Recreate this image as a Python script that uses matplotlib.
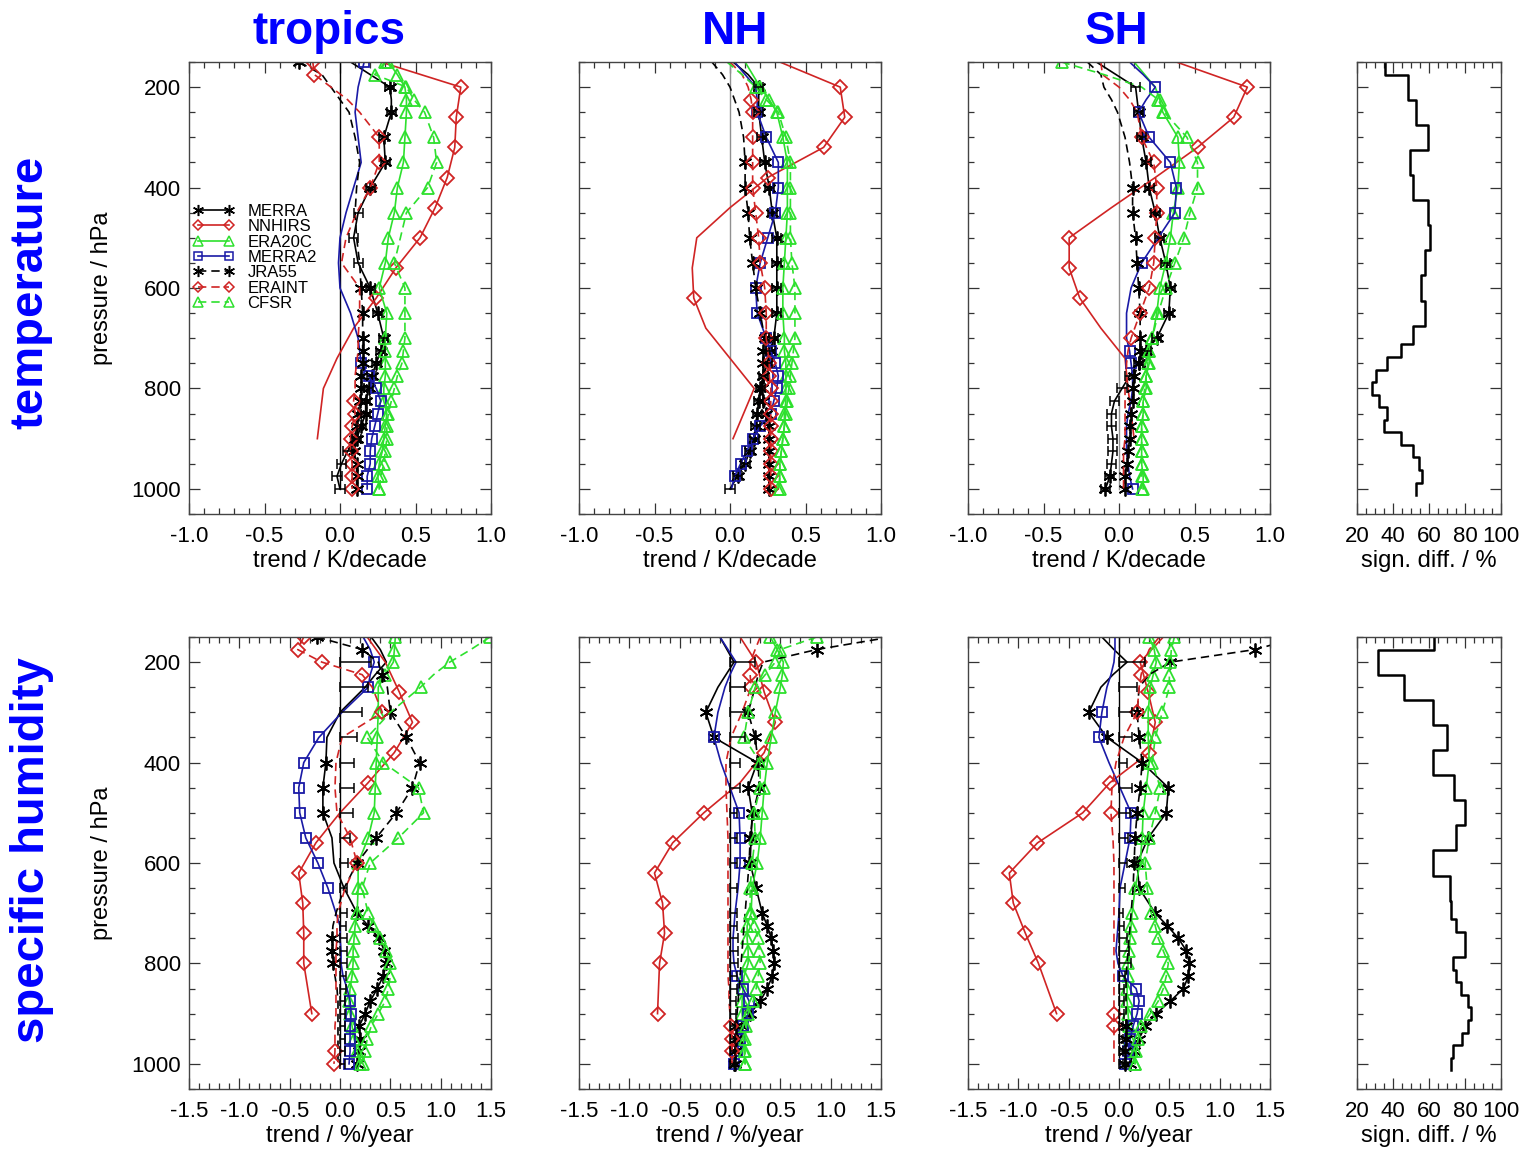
import numpy as np
import matplotlib
matplotlib.use('Agg')
import matplotlib.pyplot as plt
from matplotlib.lines import Line2D
from matplotlib.ticker import MultipleLocator

plt.rcParams['font.family'] = ['Liberation Sans', 'DejaVu Sans']
nan = np.nan

# ---------------- data ----------------
LEV = [150, 175, 200, 225, 250, 300, 350, 400, 450, 500, 550, 600, 650, 700,
       725, 750, 775, 800, 825, 850, 875, 900, 925, 950, 975, 1000]
N_LEV = [150, 200, 260, 320, 380, 440, 500, 560, 620, 680, 740, 800, 900]
S_LEV = [150, 200, 250, 300, 350, 400, 450, 500, 550, 600, 650, 700,
         725, 750, 775, 800, 825, 850, 875, 900, 925, 950, 975, 1000]

SERIES = ['MERRA', 'NNHIRS', 'ERA20C', 'MERRA2', 'JRA55', 'ERAINT', 'CFSR']
REGIONS = ['tropics', 'NH', 'SH']
ROWS = ['temperature', 'specific humidity']
T_XTICKS = [-1.0, -0.5, 0.0, 0.5, 1.0]
T_XTICKLABELS = ['-1.0', '-0.5', '0.0', '0.5', '1.0']
H_XTICKS = [-1.5, -1.0, -0.5, 0.0, 0.5, 1.0, 1.5]
H_XTICKLABELS = ['-1.5', '-1.0', '-0.5', '0.0', '0.5', '1.0', '1.5']
P_TICKS = [200, 400, 600, 800, 1000]
S_TICKS = [20, 40, 60, 80, 100]

# --- temperature, tropics
T_TR_MERRA = [0.07, 0.20, 0.33, 0.34, 0.34, 0.29, 0.30, 0.20, 0.12, 0.09, 0.12, 0.20, 0.25, 0.29, 0.27, 0.24, 0.21, 0.19, 0.17, 0.17, 0.14, 0.11, 0.05, 0.01, -0.02, 0.0]
T_TR_MERRA_MK = [0,0,1,0,1,1,1,1,0,0,0,1,1,1,1,1,1,1,1,1,1,1,0,0,0,0]
T_TR_NNHIRS = [0.27, 0.80, 0.77, 0.76, 0.71, 0.63, 0.53, 0.37, 0.24, 0.09, -0.02, -0.11, -0.15]
T_TR_NNHIRS_MK = [0,1,1,1,1,1,1,1,1,0,0,0,0]
T_TR_ERA20C = [0.32, 0.38, 0.43, 0.44, 0.44, 0.43, 0.42, 0.38, 0.36, 0.32, 0.30, 0.26, 0.31, 0.30, 0.30, 0.30, 0.30, 0.29, 0.29, 0.31, 0.30, 0.29, 0.28, 0.26, 0.25, 0.26]
T_TR_ERA20C_MK = [1]*26
T_TR_MERRA2 = [0.16, 0.14, 0.12, 0.11, 0.10, 0.12, 0.14, 0.09, 0.04, 0.0, -0.01, 0.0, 0.07, 0.12, 0.13, 0.14, 0.19, 0.24, 0.27, 0.25, 0.23, 0.21, 0.20, 0.20, 0.18, 0.18]
T_TR_MERRA2_MK = [1,0,0,0,0,0,0,0,0,0,0,0,0,0,0,1,1,1,1,1,1,1,1,1,1,1]
T_TR_JRA55 = [-0.27, -0.12, -0.06, 0.0, 0.06, 0.10, 0.13, 0.11, 0.10, 0.11, 0.13, 0.14, 0.15, 0.15, 0.15, 0.15, 0.14, 0.14, 0.13, 0.12, 0.11, 0.10, 0.09, 0.11, 0.11, 0.11]
T_TR_JRA55_MK = [1,0,0,0,0,0,0,0,0,0,0,1,1,1,1,1,1,1,1,1,1,1,1,1,1,1]
T_TR_ERAINT = [-0.18, -0.17, -0.06, 0.05, 0.13, 0.26, 0.26, 0.20, 0.11, 0.04, 0.01, 0.13, 0.13, 0.12, 0.12, 0.11, 0.10, 0.10, 0.09, 0.10, 0.08, 0.07, 0.07, 0.08, 0.08, 0.08]
T_TR_ERAINT_MK = [1,1,0,0,0,1,1,1,0,0,0,0,0,0,0,0,0,0,1,1,1,1,1,1,1,1]
T_TR_CFSR = [0.30, 0.23, 0.44, 0.49, 0.56, 0.62, 0.64, 0.58, 0.44, 0.40, 0.36, 0.43, 0.43, 0.43, 0.42, 0.41, 0.38, 0.36, 0.34, 0.32, 0.31, 0.31, 0.30, 0.29, 0.27, 0.26]
T_TR_CFSR_MK = [1,1,1,1,1,1,1,1,1,0,1,1,1,1,1,1,1,1,1,1,1,1,1,1,1,1]

# --- temperature, NH
T_NH_MERRA = [0.02, 0.12, 0.19, 0.19, 0.19, 0.21, 0.23, 0.26, 0.28, 0.31, 0.31, 0.31, 0.31, 0.29, 0.27, 0.25, 0.22, 0.20, 0.19, 0.18, 0.17, 0.16, 0.13, 0.10, 0.05, 0.0]
T_NH_MERRA_MK = [0,0,1,0,1,1,1,1,1,1,1,1,1,1,1,1,1,1,1,1,1,1,1,1,1,0]
T_NH_NNHIRS = [0.33, 0.73, 0.76, 0.62, 0.25, 0.0, -0.22, -0.25, -0.24, -0.16, 0.0, 0.16, 0.02]
T_NH_NNHIRS_MK = [0,1,1,1,1,0,0,0,1,0,0,0,0]
T_NH_ERA20C = [0.10, 0.15, 0.20, 0.26, 0.31, 0.35, 0.38, 0.38, 0.38, 0.37, 0.36, 0.35, 0.35, 0.36, 0.36, 0.37, 0.37, 0.37, 0.37, 0.36, 0.36, 0.35, 0.34, 0.33, 0.33, 0.32]
T_NH_ERA20C_MK = [0,0,1,1,1,1,1,1,1,1,1,1,1,1,1,1,1,1,1,1,1,1,1,1,1,1]
T_NH_MERRA2 = [0.03, 0.10, 0.17, 0.18, 0.18, 0.24, 0.32, 0.32, 0.30, 0.25, 0.20, 0.17, 0.18, 0.24, 0.27, 0.30, 0.32, 0.31, 0.29, 0.27, 0.20, 0.15, 0.11, 0.07, 0.03, 0.01]
T_NH_MERRA2_MK = [0,0,0,0,1,1,1,1,1,1,1,1,1,1,1,1,1,1,1,1,1,1,1,1,1,0]
T_NH_JRA55 = [-0.12, -0.05, 0.0, 0.03, 0.06, 0.09, 0.10, 0.10, 0.12, 0.13, 0.15, 0.17, 0.20, 0.23, 0.22, 0.22, 0.22, 0.21, 0.22, 0.24, 0.26, 0.26, 0.26, 0.26, 0.26, 0.26]
T_NH_JRA55_MK = [0,0,0,0,0,0,1,1,1,1,1,1,1,1,1,1,1,1,1,1,1,1,1,1,1,1]
T_NH_ERAINT = [0.0, 0.08, 0.12, 0.14, 0.15, 0.15, 0.15, 0.15, 0.17, 0.19, 0.20, 0.23, 0.24, 0.24, 0.25, 0.26, 0.26, 0.27, 0.27, 0.27, 0.27, 0.27, 0.27, 0.27, 0.27, 0.27]
T_NH_ERAINT_MK = [0,0,0,1,1,1,1,1,1,1,1,1,1,1,0,1,1,1,1,1,1,1,1,1,1,1]
T_NH_CFSR = [-0.02, 0.08, 0.17, 0.24, 0.32, 0.37, 0.40, 0.40, 0.40, 0.40, 0.41, 0.43, 0.43, 0.43, 0.42, 0.41, 0.40, 0.39, 0.38, 0.37, 0.36, 0.35, 0.34, 0.33, 0.33, 0.33]
T_NH_CFSR_MK = [0,0,1,1,1,1,1,1,1,1,1,1,1,1,1,1,1,1,1,1,1,1,1,1,1,1]

# --- temperature, SH
T_SH_MERRA = [-0.15, -0.02, 0.11, 0.12, 0.13, 0.15, 0.18, 0.20, 0.24, 0.27, 0.31, 0.34, 0.33, 0.25, 0.18, 0.13, 0.07, 0.02, -0.03, -0.05, -0.05, -0.04, -0.04, -0.05, -0.06, -0.09]
T_SH_MERRA_MK = [0,0,0,0,1,1,1,1,1,1,1,1,1,1,1,1,0,0,0,0,0,0,0,0,1,1]
T_SH_NNHIRS = [0.38, 0.85, 0.76, 0.52, 0.24, -0.05, -0.33, -0.33, -0.26, -0.12, 0.04, 0.06, 0.10]
T_SH_NNHIRS_MK = [0,1,1,1,0,0,1,1,1,0,0,0,0]
T_SH_ERA20C = [0.10, 0.17, 0.24, 0.27, 0.29, 0.39, 0.40, 0.39, 0.36, 0.34, 0.31, 0.27, 0.25, 0.22, 0.20, 0.20, 0.18, 0.18, 0.16, 0.16, 0.15, 0.15, 0.15, 0.15, 0.16, 0.16]
T_SH_ERA20C_MK = [0,0,0,1,1,1,1,1,1,1,1,1,1,1,1,1,1,1,1,1,1,1,1,1,1,1]
T_SH_MERRA2 = [0.07, 0.16, 0.24, 0.18, 0.13, 0.20, 0.34, 0.38, 0.37, 0.26, 0.15, 0.08, 0.05, 0.05, 0.07, 0.08, 0.09, 0.09, 0.08, 0.06, 0.05, 0.05, 0.05, 0.06, 0.07, 0.09]
T_SH_MERRA2_MK = [0,0,1,0,1,1,1,1,1,0,1,0,0,0,1,1,0,0,0,0,0,0,0,0,0,1]
T_SH_JRA55 = [-0.21, -0.12, -0.10, -0.05, -0.01, 0.04, 0.07, 0.09, 0.09, 0.11, 0.12, 0.13, 0.14, 0.14, 0.14, 0.13, 0.10, 0.09, 0.09, 0.08, 0.07, 0.07, 0.06, 0.05, 0.04, 0.04]
T_SH_JRA55_MK = [0,0,0,0,0,0,0,1,1,1,1,1,1,1,1,1,1,1,1,1,1,1,1,1,1,1]
T_SH_ERAINT = [-0.12, -0.11, 0.0, 0.07, 0.12, 0.15, 0.23, 0.25, 0.25, 0.24, 0.23, 0.20, 0.14, 0.08, 0.06, 0.05, 0.05, 0.04, 0.04, 0.04, 0.04, 0.04, 0.03, 0.03, 0.03, 0.03]
T_SH_ERAINT_MK = [0,0,0,0,0,1,1,1,1,1,1,1,1,1,0,0,0,0,0,0,0,0,0,0,0,0]
T_SH_CFSR = [-0.38, -0.10, 0.15, 0.26, 0.30, 0.45, 0.52, 0.52, 0.47, 0.43, 0.37, 0.31, 0.26, 0.22, 0.20, 0.19, 0.18, 0.17, 0.16, 0.16, 0.15, 0.15, 0.15, 0.15, 0.15, 0.15]
T_SH_CFSR_MK = [1,0,0,1,1,1,1,1,1,1,1,1,1,1,1,1,1,1,1,1,1,1,1,1,1,1]

# MERRA trend uncertainty (temperature, K/decade)
T_ERR = [nan, nan, 0.03, nan, 0.03, 0.03, 0.03, 0.03, 0.03, 0.03, 0.03, 0.03, 0.03, 0.03, 0.03, 0.03, 0.03, 0.03, 0.03, 0.03, 0.03, 0.03, 0.03, 0.03, 0.03, 0.03]

# --- specific humidity, tropics
H_TR_MERRA = [0.31, 0.40, 0.46, 0.35, 0.25, 0.0, -0.13, -0.14, -0.17, -0.17, -0.08, -0.06, 0.04, 0.17, 0.28, 0.39, 0.44, 0.46, 0.43, 0.37, 0.30, 0.25, 0.19, 0.20, 0.19, 0.17]
H_TR_MERRA_MK = [0,0,0,0,0,0,0,1,1,1,0,0,0,1,1,1,1,1,1,1,1,1,1,1,1,1]
H_TR_NNHIRS = [0.27, 0.45, 0.59, 0.72, 0.54, 0.28, 0.0, -0.24, -0.41, -0.37, -0.36, -0.36, -0.28]
H_TR_NNHIRS_MK = [0,0,1,1,1,1,0,1,1,1,1,1,1]
H_TR_ERA20C = [0.55, 0.54, 0.53, 0.45, 0.38, 0.38, 0.37, 0.36, 0.35, 0.34, 0.28, 0.18, 0.18, 0.17, 0.15, 0.14, 0.13, 0.13, 0.12, 0.10, 0.09, 0.10, 0.12, 0.14, 0.17, 0.20]
H_TR_ERA20C_MK = [1]*26
H_TR_MERRA2 = [0.23, 0.30, 0.34, 0.30, 0.28, 0.02, -0.21, -0.36, -0.41, -0.40, -0.34, -0.22, -0.12, -0.04, 0.0, 0.0, 0.01, 0.01, 0.03, 0.07, 0.10, 0.11, 0.10, 0.10, 0.10, 0.09]
H_TR_MERRA2_MK = [0,0,1,0,1,0,1,1,1,1,1,1,1,0,0,0,0,0,0,0,1,1,1,1,1,1]
H_TR_JRA55 = [-0.23, 0.22, 0.38, 0.42, 0.47, 0.50, 0.66, 0.79, 0.72, 0.56, 0.36, 0.17, 0.04, -0.04, -0.07, -0.08, -0.08, -0.07, -0.05, -0.03, -0.02, -0.02, -0.02, -0.02, -0.02, -0.02]
H_TR_JRA55_MK = [1,1,0,1,0,1,1,1,1,1,1,1,0,0,0,1,1,1,0,0,0,0,0,0,0,0]
H_TR_ERAINT = [-0.36, -0.42, -0.18, 0.22, 0.32, 0.42, 0.02, -0.04, -0.05, -0.03, 0.10, 0.17, 0.05, -0.02, -0.03, -0.03, -0.04, -0.04, -0.04, -0.04, -0.04, -0.04, -0.05, -0.05, -0.05, -0.06]
H_TR_ERAINT_MK = [1,1,1,1,0,1,0,0,0,0,1,1,0,0,0,0,0,0,0,0,0,0,0,0,1,1]
H_TR_CFSR = [1.49, 1.30, 1.09, 0.93, 0.80, 0.50, 0.27, 0.43, 0.78, 0.83, 0.58, 0.30, 0.22, 0.28, 0.33, 0.40, 0.46, 0.50, 0.50, 0.48, 0.45, 0.38, 0.31, 0.27, 0.25, 0.23]
H_TR_CFSR_MK = [1,0,1,0,1,0,1,1,1,1,1,1,1,1,1,1,1,1,1,1,1,1,1,1,1,1]
H_TR_ERR = [nan, nan, 0.31, nan, 0.28, 0.22, 0.17, 0.14, 0.14, 0.13, 0.10, 0.08, 0.07, 0.07, 0.06, 0.07, 0.07, 0.07, 0.06, 0.06, 0.05, 0.05, 0.05, 0.05, 0.05, 0.05]

# --- specific humidity, NH
H_NH_MERRA = [-0.10, -0.03, 0.04, -0.04, -0.12, -0.24, -0.16, 0.27, 0.18, 0.22, 0.21, 0.20, 0.26, 0.32, 0.37, 0.41, 0.43, 0.44, 0.42, 0.37, 0.30, 0.20, 0.12, 0.07, 0.05, 0.04]
H_NH_MERRA_MK = [0,0,0,0,0,1,1,1,1,1,1,1,1,1,1,1,1,1,1,1,1,1,1,1,1,1]
H_NH_NNHIRS = [0.10, 0.26, 0.34, 0.45, 0.34, 0.10, -0.26, -0.57, -0.75, -0.67, -0.65, -0.70, -0.72]
H_NH_NNHIRS_MK = [0,1,1,1,1,0,1,1,1,1,1,1,1]
H_NH_ERA20C = [0.40, 0.47, 0.53, 0.52, 0.50, 0.45, 0.41, 0.37, 0.34, 0.32, 0.30, 0.27, 0.22, 0.21, 0.17, 0.17, 0.18, 0.18, 0.14, 0.13, 0.12, 0.12, 0.13, 0.13, 0.14, 0.15]
H_NH_ERA20C_MK = [1]*26
H_NH_MERRA2 = [-0.10, -0.02, 0.06, 0.0, -0.05, -0.12, -0.16, -0.09, 0.0, 0.09, 0.10, 0.10, 0.08, 0.05, 0.04, 0.03, 0.03, 0.04, 0.07, 0.13, 0.19, 0.18, 0.13, 0.10, 0.07, 0.04]
H_NH_MERRA2_MK = [0,0,0,0,0,0,1,0,0,1,1,1,0,0,0,0,0,0,1,1,1,1,1,1,1,1]
H_NH_JRA55 = [1.60, 0.86, 0.33, 0.28, 0.25, 0.18, 0.25, 0.28, 0.29, 0.23, 0.20, 0.19, 0.17, 0.15, 0.14, 0.13, 0.12, 0.11, 0.10, 0.09, 0.08, 0.07, 0.06, 0.06, 0.05, 0.05]
H_NH_JRA55_MK = [0,1,0,0,0,1,1,1,1,1,1,1,0,0,0,0,0,0,0,0,0,0,1,1,1,1]
H_NH_ERAINT = [0.30, 0.25, 0.20, 0.20, 0.21, 0.12, 0.01, -0.04, -0.04, -0.03, -0.02, -0.02, -0.02, -0.02, -0.02, -0.02, -0.02, -0.02, -0.02, -0.01, -0.01, 0.0, 0.01, 0.02, 0.02, 0.02]
H_NH_ERAINT_MK = [0,0,0,1,1,0,0,0,0,0,0,0,0,0,0,0,0,0,0,0,0,0,1,1,1,0]
H_NH_CFSR = [0.86, 0.50, 0.45, 0.35, 0.25, 0.18, 0.14, 0.30, 0.30, 0.24, 0.25, 0.22, 0.20, 0.20, 0.24, 0.28, 0.29, 0.30, 0.28, 0.26, 0.23, 0.18, 0.16, 0.15, 0.15, 0.15]
H_NH_CFSR_MK = [1]*26
H_NH_ERR = [nan, nan, 0.25, nan, 0.15, 0.15, 0.15, 0.10, 0.10, 0.07, 0.07, 0.07, 0.07, 0.07, 0.07, 0.08, 0.08, 0.08, 0.07, 0.07, 0.06, 0.06, 0.05, 0.05, 0.05, 0.05]

# --- specific humidity, SH
H_SH_MERRA = [-0.17, -0.05, 0.08, -0.06, -0.18, -0.30, -0.12, 0.23, 0.49, 0.47, 0.29, 0.18, 0.20, 0.36, 0.48, 0.59, 0.67, 0.70, 0.69, 0.64, 0.51, 0.37, 0.26, 0.20, 0.15, 0.11]
H_SH_MERRA_MK = [0,0,0,0,0,1,1,1,1,1,1,1,1,1,1,1,1,1,1,1,1,1,1,1,1,1]
H_SH_NNHIRS = [0.44, 0.21, 0.29, 0.36, 0.30, -0.09, -0.36, -0.81, -1.09, -1.05, -0.93, -0.80, -0.62]
H_SH_NNHIRS_MK = [0,1,1,1,1,1,1,1,1,1,1,1,1]
H_SH_ERA20C = [0.30, 0.35, 0.37, 0.34, 0.31, 0.29, 0.29, 0.30, 0.27, 0.24, 0.23, 0.21, 0.16, 0.13, 0.12, 0.11, 0.10, 0.09, 0.09, 0.08, 0.08, 0.09, 0.10, 0.11, 0.13, 0.16]
H_SH_ERA20C_MK = [1]*26
H_SH_MERRA2 = [-0.04, -0.04, -0.05, -0.08, -0.12, -0.17, -0.20, -0.10, 0.01, 0.12, 0.11, 0.06, 0.01, 0.0, -0.01, -0.02, -0.03, -0.01, 0.04, 0.17, 0.20, 0.18, 0.14, 0.11, 0.09, 0.06]
H_SH_MERRA2_MK = [0,0,0,0,0,1,1,0,0,1,1,0,0,0,0,0,0,0,1,1,1,1,1,1,1,1]
H_SH_JRA55 = [1.80, 1.35, 0.51, 0.30, 0.20, 0.18, 0.20, 0.23, 0.21, 0.18, 0.16, 0.15, 0.14, 0.12, 0.11, 0.10, 0.09, 0.08, 0.07, 0.07, 0.07, 0.07, 0.07, 0.07, 0.06, 0.06]
H_SH_JRA55_MK = [0,1,1,0,0,1,1,1,1,1,1,1,0,0,0,0,0,0,0,0,0,0,1,1,1,1]
H_SH_ERAINT = [0.40, 0.30, 0.25, 0.22, 0.20, 0.18, 0.05, -0.03, -0.07, -0.08, -0.06, -0.05, -0.05, -0.05, -0.05, -0.05, -0.05, -0.05, -0.05, -0.05, -0.05, -0.05, -0.05, -0.05, -0.05, -0.05]
H_SH_ERAINT_MK = [0,0,0,1,0,1,0,0,0,1,0,0,0,0,0,0,0,0,0,0,0,1,1,0,0,0]
H_SH_CFSR = [0.55, 0.52, 0.51, 0.50, 0.50, 0.43, 0.36, 0.33, 0.41, 0.36, 0.30, 0.26, 0.28, 0.32, 0.36, 0.39, 0.44, 0.49, 0.47, 0.44, 0.39, 0.31, 0.22, 0.19, 0.17, 0.16]
H_SH_CFSR_MK = [1]*26
H_SH_ERR = [nan, nan, 0.26, nan, 0.18, 0.13, 0.13, 0.08, 0.13, 0.11, 0.09, 0.08, 0.06, 0.04, 0.05, 0.08, 0.10, 0.12, 0.06, 0.05, 0.05, 0.05, 0.04, 0.04, 0.04, 0.04]

# --- percentage of significant differences
T_SIGN = [35.3, 48.2, 53.0, 59.4, 49.3, 51.0, 59.4, 60.5, 57.5, 55.8, 57.5, 51.2, 44.6, 36.6, 30.4, 28.4, 32.1, 36.4, 34.9, 44.6, 51.2, 54.5, 56.0, 53.0]
H_SIGN = [62.7, 31.9, 46.3, 62.4, 70.2, 62.4, 73.9, 80.0, 75.2, 62.4, 71.7, 72.0, 75.2, 80.0, 80.0, 73.4, 75.2, 78.0, 81.4, 83.2, 81.4, 78.6, 73.4, 72.0]

# ---------------- assemble ----------------
TEMP = {
    'tropics': ([T_TR_MERRA, T_TR_NNHIRS, T_TR_ERA20C, T_TR_MERRA2, T_TR_JRA55, T_TR_ERAINT, T_TR_CFSR],
                [T_TR_MERRA_MK, T_TR_NNHIRS_MK, T_TR_ERA20C_MK, T_TR_MERRA2_MK, T_TR_JRA55_MK, T_TR_ERAINT_MK, T_TR_CFSR_MK]),
    'NH': ([T_NH_MERRA, T_NH_NNHIRS, T_NH_ERA20C, T_NH_MERRA2, T_NH_JRA55, T_NH_ERAINT, T_NH_CFSR],
           [T_NH_MERRA_MK, T_NH_NNHIRS_MK, T_NH_ERA20C_MK, T_NH_MERRA2_MK, T_NH_JRA55_MK, T_NH_ERAINT_MK, T_NH_CFSR_MK]),
    'SH': ([T_SH_MERRA, T_SH_NNHIRS, T_SH_ERA20C, T_SH_MERRA2, T_SH_JRA55, T_SH_ERAINT, T_SH_CFSR],
           [T_SH_MERRA_MK, T_SH_NNHIRS_MK, T_SH_ERA20C_MK, T_SH_MERRA2_MK, T_SH_JRA55_MK, T_SH_ERAINT_MK, T_SH_CFSR_MK]),
}
HUM = {
    'tropics': ([H_TR_MERRA, H_TR_NNHIRS, H_TR_ERA20C, H_TR_MERRA2, H_TR_JRA55, H_TR_ERAINT, H_TR_CFSR],
                [H_TR_MERRA_MK, H_TR_NNHIRS_MK, H_TR_ERA20C_MK, H_TR_MERRA2_MK, H_TR_JRA55_MK, H_TR_ERAINT_MK, H_TR_CFSR_MK]),
    'NH': ([H_NH_MERRA, H_NH_NNHIRS, H_NH_ERA20C, H_NH_MERRA2, H_NH_JRA55, H_NH_ERAINT, H_NH_CFSR],
           [H_NH_MERRA_MK, H_NH_NNHIRS_MK, H_NH_ERA20C_MK, H_NH_MERRA2_MK, H_NH_JRA55_MK, H_NH_ERAINT_MK, H_NH_CFSR_MK]),
    'SH': ([H_SH_MERRA, H_SH_NNHIRS, H_SH_ERA20C, H_SH_MERRA2, H_SH_JRA55, H_SH_ERAINT, H_SH_CFSR],
           [H_SH_MERRA_MK, H_SH_NNHIRS_MK, H_SH_ERA20C_MK, H_SH_MERRA2_MK, H_SH_JRA55_MK, H_SH_ERAINT_MK, H_SH_CFSR_MK]),
}
H_ERR = {'tropics': H_TR_ERR, 'NH': H_NH_ERR, 'SH': H_SH_ERR}

RED = '#d02424'
GREEN = '#2ee02e'
BLUE = '#1a1aa6'
AST = (6, 2, 0)
DASH = (5, 3)
STYLE = {
    'MERRA':  dict(color='black', dashed=False, marker=AST, ms=10),
    'NNHIRS': dict(color=RED, dashed=False, marker='D', ms=7),
    'ERA20C': dict(color=GREEN, dashed=False, marker='^', ms=8.5),
    'MERRA2': dict(color=BLUE, dashed=False, marker='s', ms=7.5),
    'JRA55':  dict(color='black', dashed=True, marker=AST, ms=10),
    'ERAINT': dict(color=RED, dashed=True, marker='D', ms=7),
    'CFSR':   dict(color=GREEN, dashed=True, marker='^', ms=8.5),
}
LW = 1.2
TICK_FS = 16
LABEL_FS = 17

W, H = 1525, 1153
fig = plt.figure(figsize=(W / 100, H / 100), dpi=100)
COLS = [(189, 491), (579, 881), (968, 1270), (1357, 1501)]
ROWY = [(62, 514), (637, 1089)]


def axpos(c, r):
    x0, x1 = COLS[c]
    y0, y1 = ROWY[r]
    return [x0 / W, 1 - y1 / H, (x1 - x0) / W, (y1 - y0) / H]


def style_axes(ax, xminor):
    ax.set_ylim(1050, 150)
    ax.set_yticks(P_TICKS)
    ax.yaxis.set_minor_locator(MultipleLocator(50))
    ax.xaxis.set_minor_locator(MultipleLocator(xminor))
    ax.tick_params(which='both', direction='in', top=True, right=True,
                   color='#333333', width=0.9)
    ax.tick_params(which='major', length=8, labelsize=TICK_FS)
    ax.tick_params(which='minor', length=4)
    ax.tick_params(axis='x', pad=8.5)
    ax.tick_params(axis='y', pad=6)
    for s in ax.spines.values():
        s.set_color('#444444')
        s.set_linewidth(1.0)


def set_xlabel(ax, text):
    ax.set_xlabel(text, fontsize=LABEL_FS)
    ax.xaxis.set_label_coords(0.5, -0.08)


def draw_series(ax, name, vals, mask, levels):
    st = STYLE[name]
    x = np.asarray(vals, float)
    y = np.asarray(levels, float)
    m = np.asarray(mask, bool)
    ln, = ax.plot(x, y, color=st['color'], lw=LW)
    if st['dashed']:
        ln.set_dashes(DASH)
    ax.plot(x[m], y[m], ls='none', marker=st['marker'], ms=st['ms'],
            mfc='none', mec=st['color'], mew=1.3)


axes = {}
for r, row in enumerate(ROWS):
    data = TEMP if r == 0 else HUM
    for c, reg in enumerate(REGIONS):
        ax = fig.add_axes(axpos(c, r))
        axes[(r, c)] = ax
        zc = 'black' if (r == 1 or c == 0) else '#909090'
        ax.plot([0, 0], [LEV[0], LEV[-1]], color=zc, lw=1.0)
        vals_list, masks = data[reg]
        for name, vals, mk in zip(SERIES, vals_list, masks):
            lv = N_LEV if name == 'NNHIRS' else LEV
            draw_series(ax, name, vals, mk, lv)
        if r == 0:
            e = np.asarray(T_ERR, float)
            xv = np.asarray(vals_list[0], float)
            ok = ~np.isnan(e)
            ax.errorbar(xv[ok], np.asarray(LEV, float)[ok], xerr=e[ok], fmt='none',
                        ecolor='black', elinewidth=1.1, capsize=3.5, capthick=1.1)
            ax.set_xlim(-1.0, 1.0)
            ax.set_xticks(T_XTICKS)
            ax.set_xticklabels(T_XTICKLABELS)
            style_axes(ax, 0.1)
            set_xlabel(ax, 'trend / K/decade')
        else:
            e = np.asarray(H_ERR[reg], float)
            ok = ~np.isnan(e)
            n = int(ok.sum())
            ax.errorbar(np.zeros(n), np.asarray(LEV, float)[ok],
                        xerr=[np.zeros(n), e[ok]], fmt='none',
                        ecolor='black', elinewidth=1.1, capsize=3.5, capthick=1.1)
            ax.set_xlim(-1.5, 1.5)
            ax.set_xticks(H_XTICKS)
            ax.set_xticklabels(H_XTICKLABELS)
            style_axes(ax, 0.1)
            set_xlabel(ax, 'trend / %/year')
        if c == 0:
            ax.set_ylabel('pressure / hPa', fontsize=LABEL_FS)
            ax.yaxis.set_label_coords(-0.252, 0.5)
        else:
            ax.set_yticklabels([])

    # significance panel
    ax = fig.add_axes(axpos(3, r))
    sig = np.asarray(T_SIGN if r == 0 else H_SIGN, float)
    lv = np.asarray(S_LEV, float)
    mids = (lv[:-1] + lv[1:]) / 2
    edges = np.concatenate([[lv[0] - (lv[1] - lv[0]) / 2], mids, [lv[-1] + (lv[-1] - lv[-2]) / 2]])
    xs = np.repeat(sig, 2)
    ys = np.column_stack([edges[:-1], edges[1:]]).ravel()
    ax.plot(xs, ys, color='black', lw=1.8)
    ax.set_xlim(20, 100)
    ax.set_xticks(S_TICKS)
    ax.set_xticklabels([str(v) for v in S_TICKS])
    style_axes(ax, 5)
    ax.set_yticklabels([])
    set_xlabel(ax, 'sign. diff. / %')

# legend in tropics temperature panel
handles = []
for name in SERIES:
    st = STYLE[name]
    h = Line2D([], [], color=st['color'], lw=LW, marker=st['marker'], ms=st['ms'] * 0.8,
               mfc='none', mec=st['color'], mew=1.1)
    if st['dashed']:
        h.set_dashes(DASH)
    handles.append(h)
axes[(0, 0)].legend(handles, SERIES, loc='upper left', bbox_to_anchor=(0.012, 0.686),
                    frameon=False, fontsize=12, numpoints=2, handlelength=2.5,
                    handletextpad=0.8, labelspacing=0.02, borderaxespad=0, borderpad=0)

# titles
TCOL = '#0000ff'
for txt, xc in [('tropics', 329), ('NH', 735), ('SH', 1117)]:
    fig.text(xc / W, 1 - 32 / H, txt, color=TCOL, fontsize=33, fontweight='bold',
             ha='center', va='center')
fig.text(30 / W, 1 - 292 / H, 'temperature', color=TCOL, fontsize=34, fontweight='bold',
         ha='center', va='center', rotation=90)
fig.text(32 / W, 1 - 850 / H, 'specific humidity', color=TCOL, fontsize=34, fontweight='bold',
         ha='center', va='center', rotation=90)

fig.savefig('out.png', dpi=100)
